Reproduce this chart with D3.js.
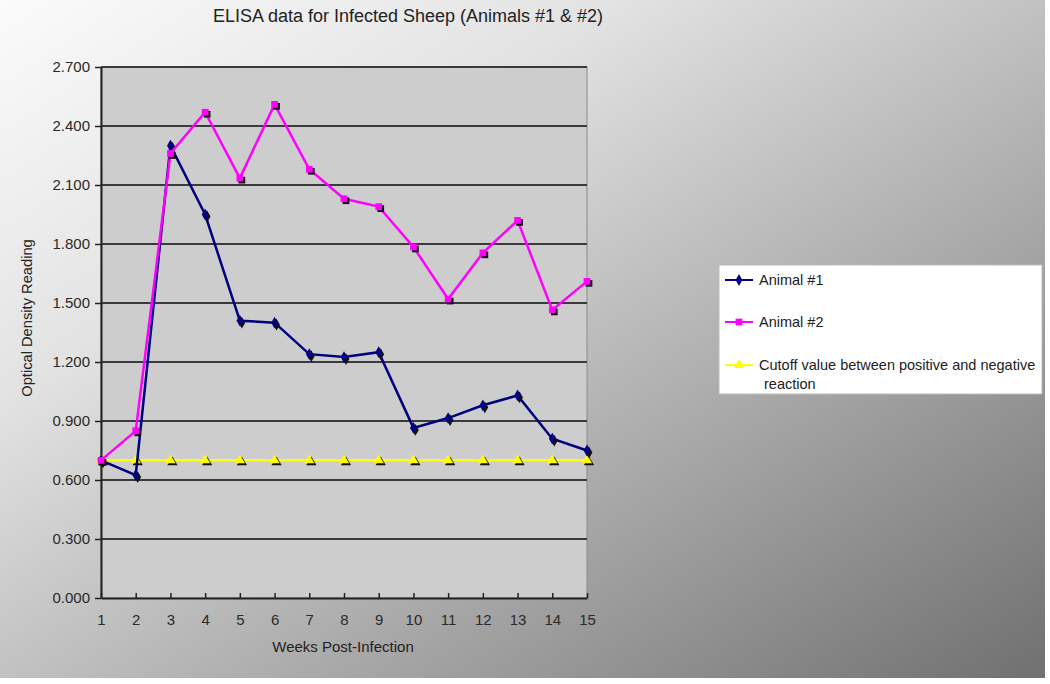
<!DOCTYPE html>
<html><head><meta charset="utf-8">
<script src="https://cdn.jsdelivr.net/npm/d3@7"></script>
<style>body{margin:0;background:#fff}svg{display:block;font-family:"Liberation Sans",Arial,sans-serif}</style>
</head><body>
<script>
const weeks = [1,2,3,4,5,6,7,8,9,10,11,12,13,14,15];
const animal1 = [0.70,0.625,2.30,1.95,1.41,1.40,1.24,1.225,1.25,0.865,0.915,0.98,1.03,0.81,0.75];
const animal2 = [0.70,0.85,2.26,2.47,2.135,2.51,2.18,2.03,1.99,1.785,1.52,1.755,1.92,1.465,1.61];
const cutoff = [0.70,0.70,0.70,0.70,0.70,0.70,0.70,0.70,0.70,0.70,0.70,0.70,0.70,0.70,0.70];
const yTicks = [0,0.3,0.6,0.9,1.2,1.5,1.8,2.1,2.4,2.7];
const seriesNames = ["Animal #1","Animal #2","Cutoff value between positive and negative"];

const W=1050,H=684;
const svg=d3.select("body").append("svg").attr("width",W).attr("height",H);
const defs=svg.append("defs");
const g=defs.append("linearGradient").attr("id","bg").attr("x1","0").attr("y1","0").attr("x2","1").attr("y2","1");
g.append("stop").attr("offset","0%").attr("stop-color","#fbfbfb");
g.append("stop").attr("offset","30%").attr("stop-color","#e2e2e2");
g.append("stop").attr("offset","100%").attr("stop-color","#707070");
svg.append("rect").attr("x",0).attr("y",0).attr("width",1045).attr("height",678).attr("fill","url(#bg)");

const L=101,R=587,T=67,B=598;
const x=d3.scaleLinear().domain([1,15]).range([L,R]);
const y=d3.scaleLinear().domain([0,2.7]).range([B,T]);

svg.append("rect").attr("x",L).attr("y",T).attr("width",R-L).attr("height",B-T).attr("fill","#cdcdcd").attr("stroke","#8a8a8a").attr("stroke-width",1);

svg.append("g").selectAll("line").data(yTicks.slice(1)).join("line")
  .attr("x1",L).attr("x2",R).attr("y1",d=>y(d)).attr("y2",d=>y(d))
  .attr("stroke","#3a3a3a").attr("stroke-width",2);

const yAxis=svg.append("g").attr("transform",`translate(${L},0)`)
  .call(d3.axisLeft(y).tickValues(yTicks).tickFormat(d3.format(".3f")).tickSize(6).tickSizeOuter(0));
const xAxis=svg.append("g").attr("transform",`translate(0,${B})`)
  .call(d3.axisBottom(x).tickValues(weeks).tickFormat(d3.format("d")).tickSize(-5).tickSizeOuter(0));
[yAxis,xAxis].forEach(a=>{a.select(".domain").attr("stroke","#222").attr("stroke-width",2);
  a.selectAll(".tick line").attr("stroke","#222").attr("stroke-width",1.5);
  a.selectAll("text").attr("font-size",15).attr("fill","#2a2a2a").attr("font-family","'Liberation Sans',Arial,sans-serif");});
yAxis.selectAll("text").attr("x",-11);
xAxis.selectAll("text").attr("y",16);

svg.append("text").attr("x",408).attr("y",22).attr("text-anchor","middle").attr("font-size",18).attr("fill","#222").text("ELISA data for Infected Sheep (Animals #1 & #2)");
svg.append("text").attr("x",343).attr("y",652).attr("text-anchor","middle").attr("font-size",15).attr("fill","#222").text("Weeks Post-Infection");
svg.append("text").attr("transform","translate(32,318) rotate(-90)").attr("text-anchor","middle").attr("font-size",14.7).attr("fill","#222").text("Optical Density Reading");

const line=d3.line().x((d,i)=>x(weeks[i])).y(d=>y(d));
const sym={diamond:d3.symbol().type(d3.symbolDiamond).size(40),square:d3.symbol().type(d3.symbolSquare).size(45),tri:d3.symbol().type(d3.symbolTriangle).size(45)};
const series=[
  {data:cutoff,color:"#ffff00",sym:sym.tri},
  {data:animal1,color:"#000080",sym:sym.diamond},
  {data:animal2,color:"#ff00ff",sym:sym.square}
];
const plot=svg.append("g");
series.forEach(s=>{
  plot.append("path").datum(s.data).attr("d",line).attr("fill","none").attr("stroke",s.color).attr("stroke-width",2.5);
  const m=plot.append("g");
  m.selectAll(".sh").data(s.data).join("path").attr("d",s.sym)
    .attr("transform",(d,i)=>`translate(${x(weeks[i])+2},${y(d)+2})`).attr("fill","#111");
  m.selectAll(".mk").data(s.data).join("path").attr("d",s.sym)
    .attr("transform",(d,i)=>`translate(${x(weeks[i])},${y(d)})`).attr("fill",s.color);
});

const lg=svg.append("g");
lg.append("rect").attr("x",719).attr("y",265).attr("width",323).attr("height",129).attr("fill","#fff").attr("stroke","#bbb");
const leg=[{c:"#000080",s:sym.diamond,y:280,t:[seriesNames[0]]},{c:"#ff00ff",s:sym.square,y:322,t:[seriesNames[1]]},{c:"#ffff00",s:sym.tri,y:365,t:[seriesNames[2],"reaction"]}];
leg.forEach(d=>{
  lg.append("line").attr("x1",725).attr("x2",753).attr("y1",d.y).attr("y2",d.y).attr("stroke",d.c).attr("stroke-width",2);
  lg.append("path").attr("d",d.s).attr("transform",`translate(739,${d.y})`).attr("fill",d.c);
  d.t.forEach((t,k)=>lg.append("text").attr("x",k?764:759).attr("y",d.y+5+k*19).attr("font-size",14.5).attr("fill","#222").text(t));
});
</script>
</body></html>
